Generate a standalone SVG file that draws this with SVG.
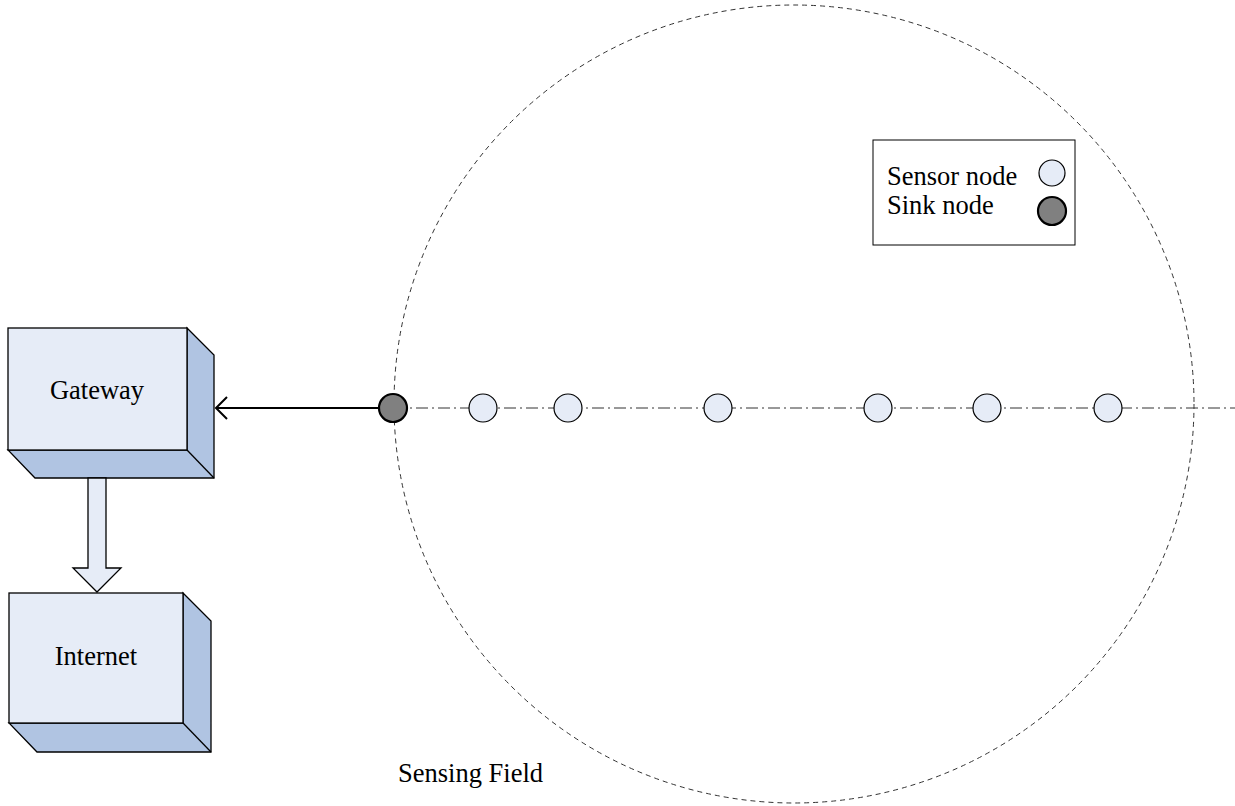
<svg xmlns="http://www.w3.org/2000/svg" width="1235" height="806" viewBox="0 0 1235 806">
<style>
text{font-family:"Liberation Serif","Times New Roman",serif;font-size:26.5px;fill:#000}
.front{fill:#e6ecf7;stroke:#000;stroke-width:1.3}
.side{fill:#b0c4e2;stroke:#000;stroke-width:1.3}
.sensor{fill:#e6ecf7;stroke:#000;stroke-width:1.2}
.sink{fill:#808080;stroke:#000;stroke-width:2.2}
</style>
<rect width="1235" height="806" fill="#fff"/>
<g id="field">
<ellipse cx="794" cy="404" rx="400" ry="399" fill="none" stroke="#333" stroke-width="1" stroke-dasharray="5,4"/>
<text x="398" y="782">Sensing Field</text>
</g>
<g id="gateway">
<path class="side" d="M187,328 L214,355 L214,478 L35,478 L8,450 L187,450 Z"/>
<line x1="187" y1="450" x2="214" y2="478" stroke="#000" stroke-width="1.3"/>
<rect class="front" x="8" y="328" width="179" height="122"/>
<text x="97" y="399" text-anchor="middle">Gateway</text>
</g>
<g id="internet">
<path class="side" d="M183,593 L211,621 L211,752 L37,752 L9,723 L183,723 Z"/>
<line x1="183" y1="723" x2="211" y2="752" stroke="#000" stroke-width="1.3"/>
<rect class="front" x="9" y="593" width="174" height="130"/>
<text x="96" y="665" text-anchor="middle">Internet</text>
</g>
<g id="connectors">
<line x1="394" y1="408" x2="1235" y2="408" stroke="#333" stroke-width="1" stroke-dasharray="12,4,2,4"/>
<line x1="379" y1="408" x2="217" y2="408" stroke="#000" stroke-width="2"/>
<path d="M227,397 L216,408 L227,419" fill="none" stroke="#000" stroke-width="2"/>
<path class="front" d="M88,478 L106,478 L106,568 L121,568 L97,592 L73,568 L88,568 Z" stroke-width="2"/>
</g>
<g id="sink">
<circle class="sink" cx="393" cy="408" r="14"/>
</g>
<g id="sensors">
<circle class="sensor" cx="483" cy="408" r="14"/>
<circle class="sensor" cx="568" cy="408" r="14"/>
<circle class="sensor" cx="718" cy="408" r="14"/>
<circle class="sensor" cx="878" cy="408" r="14"/>
<circle class="sensor" cx="987" cy="408" r="14"/>
<circle class="sensor" cx="1108" cy="408" r="14"/>
</g>
<g id="legend">
<rect x="873" y="140" width="202" height="105" fill="#fff" stroke="#000" stroke-width="1"/>
<text x="887" y="185">Sensor node</text>
<text x="887" y="214">Sink node</text>
<circle class="sensor" cx="1052" cy="173" r="13"/>
<circle class="sink" cx="1052" cy="211" r="14"/>
</g>
</svg>
